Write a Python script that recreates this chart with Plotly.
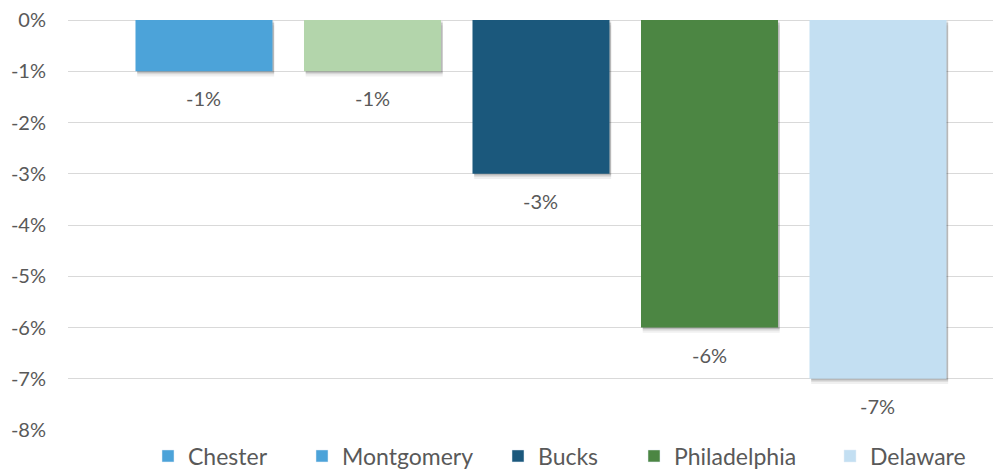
import plotly.graph_objects as go

categories = ["Chester", "Montgomery", "Bucks", "Philadelphia", "Delaware"]
values = [-1, -1, -3, -6, -7]
bar_colors = ["#4ca3d9", "#b3d5ab", "#1b587c", "#4c8643", "#c3dff2"]
legend_colors = ["#4ca3d9", "#4ca3d9", "#1b587c", "#4c8643", "#c3dff2"]
tick_vals = [0, -1, -2, -3, -4, -5, -6, -7, -8]
tick_text = ["0%", "-1%", "-2%", "-3%", "-4%", "-5%", "-6%", "-7%", "-8%"]

font_family = "Lato, 'Open Sans', sans-serif"
text_color = "#595959"

# the page body has an 8px margin; the figure fills the rest of the 1001x469 window
PAGE_OFF = 8
FIG_W, FIG_H = 1001 - PAGE_OFF, 469 - PAGE_OFF

fig = go.Figure()
xs = list(range(len(categories)))

# soft shadow behind bars
for off, alpha in [(0.10, 0.06), (0.06, 0.10), (0.03, 0.14)]:
    fig.add_trace(go.Bar(
        x=[x + 0.01 for x in xs], y=values, base=[-off] * len(values),
        width=0.813, marker=dict(color=f"rgba(0,0,0,{alpha})", line=dict(width=0)),
        showlegend=False, hoverinfo="skip",
    ))

fig.add_trace(go.Bar(
    x=xs, y=values, width=0.813,
    marker=dict(color=bar_colors, line=dict(width=0)),
    showlegend=False,
))

for x, v in zip(xs, values):
    fig.add_annotation(x=x, y=v, text=f"{v}%", showarrow=False, yanchor="middle",
                       yshift=-27, font=dict(family=font_family, size=20, color=text_color))

legend_x = [166, 320, 516, 652, 848]
legend_layout = {}
for i, (name, col) in enumerate(zip(categories, legend_colors)):
    key = "legend" if i == 0 else f"legend{i + 1}"
    fig.add_trace(go.Bar(x=[None], y=[None], name=name, marker=dict(color=col),
                         legend=key))
    legend_layout[key] = dict(
        orientation="h", xref="container", yref="container",
        x=(legend_x[i] - PAGE_OFF - 18) / FIG_W, xanchor="left",
        y=1 - (456 - PAGE_OFF) / FIG_H, yanchor="middle",
        bgcolor="rgba(0,0,0,0)", borderwidth=0,
        font=dict(family=font_family, size=23, color=text_color),
    )

fig.update_layout(
    width=FIG_W, height=FIG_H,
    margin=dict(l=68 - PAGE_OFF, r=0, t=19 - PAGE_OFF, b=469 - 430, autoexpand=False),
    plot_bgcolor="white", paper_bgcolor="white",
    barmode="overlay",
    font=dict(family=font_family, size=20, color=text_color),
    xaxis=dict(range=[-0.807, 4.73], showticklabels=False, showgrid=False,
               zeroline=False, showline=False, fixedrange=True),
    yaxis=dict(range=[-8.0, 0.02], tickvals=tick_vals, ticktext=tick_text,
               showgrid=True, gridcolor="#d9d9d9", gridwidth=1,
               zeroline=False, showline=False, ticks="", ticklabelstandoff=21,
               automargin=False, ticklabeloverflow="allow",
               tickfont=dict(family=font_family, size=20, color=text_color)),
    showlegend=True,
    **legend_layout,
)

fig.write_html("out.html")
